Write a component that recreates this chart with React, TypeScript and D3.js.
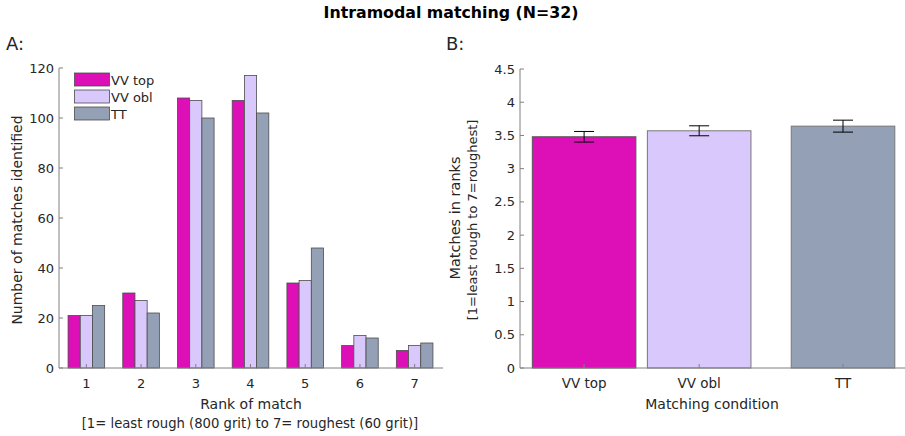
import React from "react";
import * as d3 from "d3";

const ranks = [1, 2, 3, 4, 5, 6, 7];
const seriesNames = ["VV top", "VV obl", "TT"];
const seriesColors = ["#DD10B8", "#D9C8FC", "#94A0B5"];
const vvTop = [21, 30, 108, 107, 34, 9, 7];
const vvObl = [21, 27, 107, 117, 35, 13, 9];
const tt = [25, 22, 100, 102, 48, 12, 10];
const leftTicks = [0, 20, 40, 60, 80, 100, 120];

const conditions = ["VV top", "VV obl", "TT"];
const conditionPos = [1, 2, 3.25];
const meanRanks = [3.48, 3.57, 3.64];
const errRanks = [0.08, 0.075, 0.09];
const rightTicks = [0, 0.5, 1, 1.5, 2, 2.5, 3, 3.5, 4, 4.5];

const FONT = "Verdana, DejaVu Sans, sans-serif";
const TXT = "#262626";
const AX = "#808080";
const EDGE = "#4d4d4d";

export default function App() {
  const series = [vvTop, vvObl, tt];
  // Left panel
  const xL = d3.scaleLinear().domain([0.5, 7.5]).range([59, 442]);
  const yL = d3.scaleLinear().domain([0, 120]).range([368, 68]);
  const bw = 12.2;
  // Right panel
  const xR = d3.scaleLinear().domain([0.443, 3.78]).range([520, 904]);
  const yR = d3.scaleLinear().domain([0, 4.5]).range([368, 69]);
  const bwR = xR(0.9) - xR(0);

  return (
    <svg width={905} height={436} style={{ position: "absolute", left: 0, top: 0 }} fontFamily={FONT}>
      <rect width={905} height={436} fill="#fff" />
      <text x={451} y={18} textAnchor="middle" fontWeight="bold" fontSize={15.8} fill="#000">
        Intramodal matching (N=32)
      </text>
      <text x={6} y={50} fontSize={18} fill={TXT}>A:</text>
      <text x={446} y={50} fontSize={18} fill={TXT}>B:</text>

      {/* Left panel bars */}
      {ranks.map((r, i) =>
        series.map((s, j) => (
          <rect
            key={`b${i}-${j}`}
            x={xL(r) + (j - 1.5) * bw}
            y={yL(s[i])}
            width={bw}
            height={yL(0) - yL(s[i])}
            fill={seriesColors[j]}
            stroke={EDGE}
            strokeWidth={0.8}
          />
        ))
      )}
      {/* Left axes */}
      <line x1={59} y1={368} x2={443} y2={368} stroke={AX} />
      <line x1={59} y1={368} x2={59} y2={68} stroke={AX} />
      {leftTicks.map((t) => (
        <g key={`lt${t}`}>
          <line x1={59} x2={63} y1={yL(t)} y2={yL(t)} stroke={AX} />
          <text x={54} y={yL(t) + 4.5} textAnchor="end" fontSize={13} fill={TXT}>{t}</text>
        </g>
      ))}
      {ranks.map((r) => (
        <g key={`lx${r}`}>
          <line x1={xL(r)} x2={xL(r)} y1={368} y2={364} stroke={AX} />
          <text x={xL(r)} y={388} textAnchor="middle" fontSize={13} fill={TXT}>{r}</text>
        </g>
      ))}
      <text x={251} y={409} textAnchor="middle" fontSize={14} fill={TXT}>Rank of match</text>
      <text x={250} y={428} textAnchor="middle" fontSize={13.2} fill={TXT}>
        [1= least rough (800 grit) to 7= roughest (60 grit)]
      </text>
      <text transform="translate(22,220) rotate(-90)" textAnchor="middle" fontSize={14} fill={TXT}>
        Number of matches identified
      </text>
      {/* Legend */}
      {seriesNames.map((n, j) => (
        <g key={`lg${j}`}>
          <rect x={74.5} y={73 + j * 17} width={35} height={13} fill={seriesColors[j]} stroke={EDGE} strokeWidth={0.8} />
          <text x={111} y={84.5 + j * 17} fontSize={13} fill={TXT}>{n}</text>
        </g>
      ))}

      {/* Right panel bars */}
      {conditions.map((c, i) => (
        <g key={`rb${i}`}>
          <rect
            x={xR(conditionPos[i]) - bwR / 2}
            y={yR(meanRanks[i])}
            width={bwR}
            height={yR(0) - yR(meanRanks[i])}
            fill={seriesColors[i]}
            stroke={i === 0 ? "#555" : "#777"}
            strokeWidth={1}
          />
        </g>
      ))}
      {conditions.map((c, i) => {
        const cx = xR(conditionPos[i]);
        const top = yR(meanRanks[i] + errRanks[i]);
        const bot = yR(meanRanks[i] - errRanks[i]);
        return (
          <g key={`eb${i}`} stroke="#000" strokeWidth={1}>
            <line x1={cx} x2={cx} y1={top} y2={bot} />
            <line x1={cx - 10} x2={cx + 10} y1={top} y2={top} />
            <line x1={cx - 10} x2={cx + 10} y1={bot} y2={bot} />
          </g>
        );
      })}
      <line x1={520} y1={368} x2={905} y2={368} stroke={AX} />
      <line x1={520} y1={368} x2={520} y2={69} stroke={AX} />
      {rightTicks.map((t) => (
        <g key={`rt${t}`}>
          <line x1={520} x2={524} y1={yR(t)} y2={yR(t)} stroke={AX} />
          <text x={515} y={yR(t) + 4.5} textAnchor="end" fontSize={13} fill={TXT}>{t}</text>
        </g>
      ))}
      {conditions.map((c, i) => (
        <g key={`rx${i}`}>
          <line x1={xR(conditionPos[i])} x2={xR(conditionPos[i])} y1={368} y2={364} stroke={AX} />
          <text x={xR(conditionPos[i])} y={388} textAnchor="middle" fontSize={13.5} fill={TXT}>{c}</text>
        </g>
      ))}
      <text x={712} y={409} textAnchor="middle" fontSize={14} fill={TXT}>Matching condition</text>
      <text transform="translate(460,218) rotate(-90)" textAnchor="middle" fontSize={14.5} fill={TXT}>
        Matches in ranks
      </text>
      <text transform="translate(477,220) rotate(-90)" textAnchor="middle" fontSize={13} fill={TXT}>
        [1=least rough to 7=roughest]
      </text>
    </svg>
  );
}
